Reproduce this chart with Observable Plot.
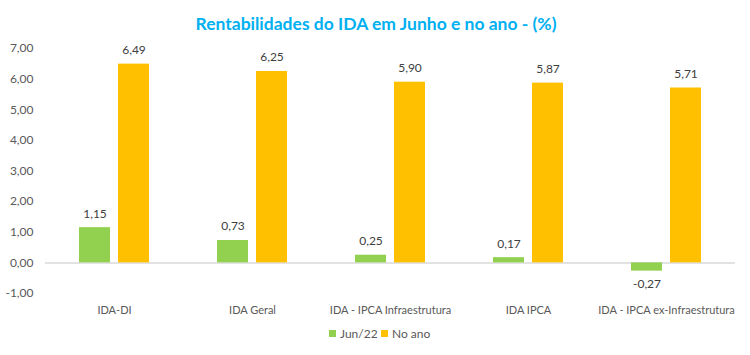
<!DOCTYPE html>
<html>
<head>
<meta charset="utf-8">
<script src="https://cdn.jsdelivr.net/npm/d3@7"></script>
<script src="https://cdn.jsdelivr.net/npm/@observablehq/plot@0.6"></script>
<style>
  body { margin: 0; background: #fff; width: 750px; height: 355px; overflow: hidden; font-family: Lato, sans-serif; }
  #title { height: 38px; line-height: 47px; text-align: center; color: #00B0F0; font-weight: bold; font-size: 17.5px; padding-left: 2px; }
  #legend { position: relative; height: 32px; font-size: 12px; color: #595959; }
  .item { position: absolute; top: 3px; display: flex; align-items: center; }
  .sw { width: 7px; height: 7px; margin-right: 4px; }
</style>
</head>
<body>
<div id="title">Rentabilidades do IDA em Junho e no ano - (%)</div>
<div id="chart"></div>
<div id="legend">
  <div class="item" style="left:329px"><span class="sw" style="background:#92D050"></span>Jun/22</div>
  <div class="item" style="left:381px"><span class="sw" style="background:#FFC000"></span>No ano</div>
</div>
<script>
const categories = ["IDA-DI", "IDA Geral", "IDA - IPCA Infraestrutura", "IDA IPCA", "IDA - IPCA ex-Infraestrutura"];
const series = ["Jun/22", "No ano"];
const jun22 = [1.15, 0.73, 0.25, 0.17, -0.27];
const noAno = [6.49, 6.25, 5.90, 5.87, 5.71];
const yTicks = [-1, 0, 1, 2, 3, 4, 5, 6, 7];
const colors = ["#92D050", "#FFC000"];

const data = categories.flatMap((c, i) => [
  {cat: c, s: series[0], v: jun22[i]},
  {cat: c, s: series[1], v: noAno[i]}
]);
const fmt = d => d.toFixed(2).replace(".", ",");

const chart = Plot.plot({
  width: 750,
  height: 285,
  marginLeft: 45,
  marginRight: 15,
  marginTop: 10,
  marginBottom: 30,
  style: {fontFamily: "Lato, sans-serif", fontSize: "12px", color: "#595959", background: "white"},
  fx: {domain: categories, padding: 0, label: null},
  x: {domain: series, paddingInner: 0.205, paddingOuter: 0.87, axis: null},
  y: {domain: [-1, 7], label: null},
  color: {domain: series, range: colors},
  marks: [
    Plot.ruleY([0], {stroke: "#d9d9d9", strokeWidth: 1.5}),
    Plot.barY(data, {fx: "cat", x: "s", y: "v", fill: "s"}),
    Plot.text(data.filter(d => d.v >= 0), {fx: "cat", x: "s", y: "v", text: d => fmt(d.v), dy: -14, fill: "#404040"}),
    Plot.text(data.filter(d => d.v < 0), {fx: "cat", x: "s", y: "v", text: d => fmt(d.v), dy: 13, fill: "#404040"}),
    Plot.axisY({ticks: yTicks, tickFormat: fmt, tickSize: 0, tickPadding: 12, label: null, fill: "#595959"}),
    Plot.axisFx({anchor: "bottom", tickSize: 0, tickPadding: 13, label: null, fill: "#595959", fontSize: 11})
  ]
});
document.getElementById("chart").appendChild(chart);
</script>
</body>
</html>
